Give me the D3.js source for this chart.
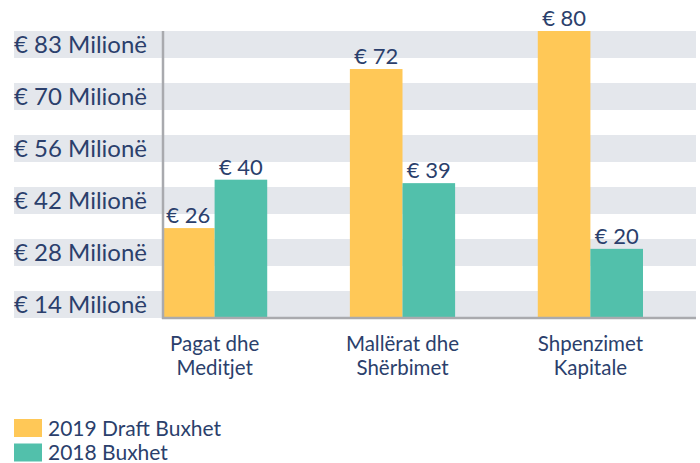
<!DOCTYPE html>
<html>
<head>
<meta charset="utf-8">
<script src="https://cdn.jsdelivr.net/npm/d3@7"></script>
<style>
  body { margin: 0; background: #fff; }
  text { font-family: Lato, "Noto Sans", sans-serif; font-weight: 400; fill: #2b3f6c; }
</style>
</head>
<body>
<script>
// data
var categories = [["Pagat dhe", "Meditjet"], ["Mallërat dhe", "Shërbimet"], ["Shpenzimet", "Kapitale"]];
var seriesNames = ["2019 Draft Buxhet", "2018 Buxhet"];
var draft2019 = [26, 72, 83];            // bar heights as drawn
var draft2019Labels = ["€ 26", "€ 72", "€ 80"];
var budget2018 = [40, 39, 20];
var budget2018Labels = ["€ 40", "€ 39", "€ 20"];
var tickLabels = ["€ 83 Milionë", "€ 70 Milionë", "€ 56 Milionë", "€ 42 Milionë", "€ 28 Milionë", "€ 14 Milionë"];
var colors = ["#ffc857", "#52c0ab"];

var plot = {top: 31, bottom: 318, left: 162, right: 696},
  width = 700,
  height = 463;

var svg = d3.select("body").append("svg")
  .attr("width", width)
  .attr("height", height);

// striped background bands, one per tick label
var band = d3.scaleBand()
  .domain(tickLabels)
  .range([plot.top, plot.bottom])
  .paddingInner(25 / 52)
  .paddingOuter(0);

svg.append("g").selectAll("rect")
  .data(tickLabels)
  .enter().append("rect")
  .attr("x", 14)
  .attr("y", function(d){ return band(d); })
  .attr("width", plot.right - 14)
  .attr("height", band.bandwidth())
  .attr("fill", "#e4e7ec");

svg.append("g").selectAll("text")
  .data(tickLabels)
  .enter().append("text")
  .attr("x", 14)
  .attr("y", function(d){ return band(d) + band.bandwidth() / 2; })
  .attr("dy", "0.35em")
  .style("font-size", "24px")
  .text(function(d){ return d; });

// scales
var x = d3.scaleBand()
  .domain(d3.range(categories.length))
  .range([plot.left, 643])
  .paddingInner(0.44)
  .paddingOuter(0);

var xs = d3.scaleBand()
  .domain([0, 1])
  .range([0, x.bandwidth()]);

var y = d3.scaleLinear().domain([0, 83]).range([plot.bottom, plot.top]);

var rows = categories.map(function(c, i){
  return [
    {s: 0, v: draft2019[i], label: draft2019Labels[i]},
    {s: 1, v: budget2018[i], label: budget2018Labels[i]}
  ];
});

var groups = svg.append("g").selectAll("g")
  .data(rows)
  .enter().append("g")
  .attr("transform", function(d, i){ return "translate(" + x(i) + ",0)"; });

groups.selectAll("rect")
  .data(function(d){ return d; })
  .enter().append("rect")
  .attr("x", function(d){ return xs(d.s); })
  .attr("y", function(d){ return y(d.v); })
  .attr("width", xs.bandwidth())
  .attr("height", function(d){ return plot.bottom - y(d.v); })
  .attr("fill", function(d){ return colors[d.s]; });

groups.selectAll("text")
  .data(function(d){ return d; })
  .enter().append("text")
  .attr("x", function(d){ return xs(d.s) + xs.bandwidth() / 2; })
  .attr("y", function(d){ return y(d.v) - 5; })
  .attr("text-anchor", "middle")
  .style("font-size", "22px")
  .text(function(d){ return d.label; });

// axis lines
svg.append("line")
  .attr("x1", plot.left + 1).attr("x2", plot.left + 1)
  .attr("y1", plot.top).attr("y2", plot.bottom + 1)
  .attr("stroke", "#a9aaae").attr("stroke-width", 2.5);

svg.append("line")
  .attr("x1", plot.left).attr("x2", plot.right)
  .attr("y1", plot.bottom).attr("y2", plot.bottom)
  .attr("stroke", "#a9aaae").attr("stroke-width", 2.5);

// category labels
var cat = svg.append("g").selectAll("text")
  .data(categories)
  .enter().append("text")
  .attr("text-anchor", "middle")
  .attr("transform", function(d, i){ return "translate(" + (x(i) + x.bandwidth() / 2) + ",351)"; })
  .style("font-size", "20.5px");

cat.selectAll("tspan")
  .data(function(d){ return d; })
  .enter().append("tspan")
  .attr("x", 0)
  .attr("y", function(d, i){ return i * 23.5; })
  .text(function(d){ return d; });

// legend
var legend = svg.append("g").selectAll("g")
  .data(seriesNames)
  .enter().append("g")
  .attr("transform", function(d, i){ return "translate(14," + (419 + i * 24.5) + ")"; });

legend.append("rect")
  .attr("width", 28)
  .attr("height", 18)
  .attr("fill", function(d, i){ return colors[i]; });

legend.append("text")
  .attr("x", 34)
  .attr("y", 16.5)
  .style("font-size", "21px")
  .text(function(d){ return d; });
</script>
</body>
</html>
